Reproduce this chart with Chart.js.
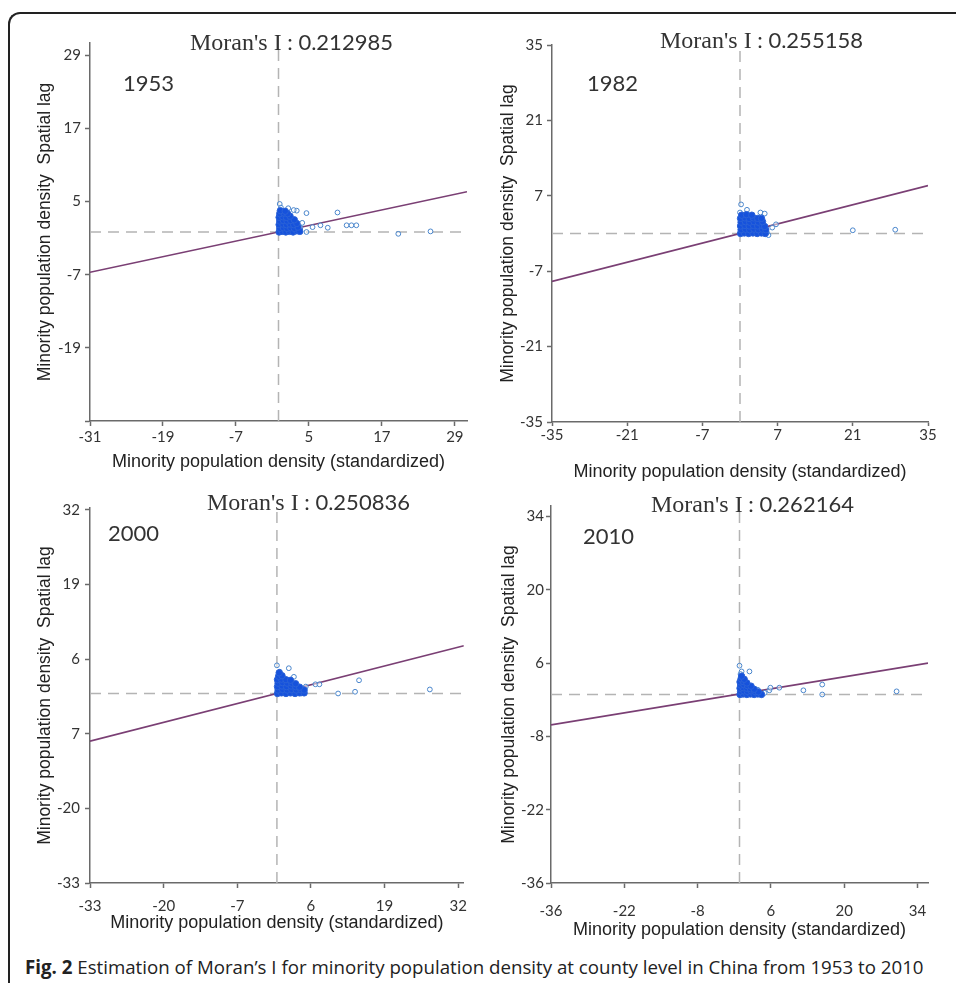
<!DOCTYPE html>
<html>
<head>
<meta charset="utf-8">
<script src="https://cdn.jsdelivr.net/npm/chart.js@4/dist/chart.umd.min.js"></script>
<style>
  html, body { margin:0; padding:0; background:#fff; width:956px; height:983px; overflow:hidden; }
  #frame { position:absolute; left:8px; top:12px; width:1000px; height:1000px;
           border-left:2px solid #222; border-top:2px solid #222; border-top-left-radius:12px; }
  canvas { position:absolute; }
  #caption { position:absolute; left:25px; top:955px; font-family:"Open Sans", sans-serif; font-size:18.7px;
             line-height:24px; color:#222; white-space:nowrap; }
</style>
</head>
<body>
<div id="frame"></div>
<canvas id="c1953" width="466" height="460" style="left:10px;top:14px"></canvas>
<canvas id="c1982" width="470" height="470" style="left:480px;top:14px"></canvas>
<canvas id="c2000" width="466" height="470" style="left:10px;top:478px"></canvas>
<canvas id="c2010" width="470" height="470" style="left:480px;top:478px"></canvas>
<div id="caption"><b>Fig. 2</b> Estimation of Moran’s I for minority population density at county level in China from 1953 to 2010</div>
<script>
// values
const years = ["1953", "1982", "2000", "2010"];
const moranI = ["0.212985", "0.255158", "0.250836", "0.262164"];

const ticks1953 = [-31, -19, -7, 5, 17, 29];
const yLabels1953 = ["", "-19", "-7", "5", "17", "29"];
const ticks1982 = [-35, -21, -7, 7, 21, 35];
const ticks2000 = [-33, -20, -7, 6, 19, 32];
const yLabels2000 = ["-33", "-20", "7", "6", "19", "32"];
const ticks2010 = [-36, -22, -8, 6, 20, 34];

// regression line ends (x, y)
const fitX1953 = [-31, 31], fitY1953 = [-6.6, 6.6];
const fitX1982 = [-35, 35], fitY1982 = [-8.9, 8.9];
const fitX2000 = [-33, 33], fitY2000 = [-8.3, 8.3];
const fitX2010 = [-36, 36], fitY2010 = [-5.8, 6.0];

// dense cloud near the origin
const clusX1953 = [0.1,0.6,1.2,1.8,2.4,3.0,3.5, 0.2,0.8,1.4,2.0,2.6,3.2, 0.1,0.7,1.3,1.9,2.5,3.0, 0.2,0.8,1.4,2.0,2.6, 0.1,0.7,1.3,1.9, 0.2,0.9,1.5, 0.3,1.1];
const clusY1953 = [0.0,0.1,0.0,0.1,0.0,0.2,0.1, 0.6,0.7,0.6,0.7,0.6,0.8, 1.2,1.3,1.2,1.3,1.2,1.4, 1.8,1.9,1.8,1.9,2.0, 2.4,2.5,2.4,2.6, 3.0,3.1,3.0, 3.5,3.4];
const outX1953 = [0.2,0.4,1.6,3.0,3.6,4.6,4.6,5.6,6.9,8.1,9.7,11.2,12.0,12.8,19.7,25.0,2.5,3.9];
const outY1953 = [4.6,4.0,3.9,3.5,0.7,3.1,0.0,0.8,1.1,0.7,3.2,1.1,1.1,1.1,-0.3,0.1,3.6,1.5];

const clusX1982 = [0.1,0.8,1.6,2.4,3.2,4.0,4.7, 0.2,1.0,1.8,2.6,3.4,4.2,4.8, 0.1,0.9,1.7,2.5,3.3,4.1,4.6, 0.2,1.0,1.8,2.6,3.4,4.2, 0.1,0.9,1.7,2.5,3.3,4.0, 0.3,1.2,2.2];
const clusY1982 = [0.0,0.1,0.0,0.1,0.0,0.1,0.0, 0.7,0.8,0.7,0.8,0.7,0.8,0.7, 1.4,1.5,1.4,1.5,1.4,1.5,1.3, 2.1,2.2,2.1,2.2,2.1,2.2, 2.8,2.9,2.8,2.9,2.8,2.8, 3.4,3.5,3.4];
const outX1982 = [0.2,1.3,0.0,3.8,4.6,5.3,6.0,6.7,21.0,28.9,5.0];
const outY1982 = [5.4,4.4,3.9,3.9,3.7,-0.3,1.1,1.7,0.6,0.7,0.2];

const clusX2000 = [0.1,0.8,1.6,2.4,3.2,4.0,4.8, 0.2,1.0,1.8,2.6,3.4,4.2,4.8, 0.1,0.9,1.7,2.5,3.3,4.0, 0.2,1.0,1.8,2.6,3.3, 0.1,0.8,1.6,2.4, 0.3,0.9, 0.4];
const clusY2000 = [0.0,0.1,0.0,0.1,0.0,0.1,0.1, 0.6,0.7,0.6,0.7,0.6,0.7,0.6, 1.2,1.3,1.2,1.3,1.2,1.1, 1.8,1.9,1.8,1.8,1.7, 2.4,2.5,2.4,2.3, 3.0,3.1, 3.6];
const outX2000 = [0.0,2.1,0.5,5.1,6.8,7.5,10.8,13.8,14.5,27.0,4.3,3.0];
const outY2000 = [4.9,4.4,3.8,1.2,1.6,1.6,0.0,0.3,2.3,0.7,0.0,2.9];

const clusX2010 = [0.1,0.7,1.4,2.1,2.8,3.5,4.2, 0.2,0.8,1.5,2.2,2.9,3.6, 0.1,0.7,1.4,2.1,2.8, 0.2,0.8,1.5,2.2, 0.1,0.7,1.4, 0.3,0.9, 0.4];
const clusY2010 = [0.0,0.1,0.0,0.1,0.0,0.1,0.0, 0.6,0.7,0.6,0.7,0.6,0.5, 1.2,1.3,1.2,1.1,1.0, 1.8,1.9,1.7,1.6, 2.4,2.5,2.2, 3.0,2.9, 3.5];
const outX2010 = [0.0,0.4,1.9,0.2,4.2,5.7,5.9,7.6,12.2,15.8,15.8,30.0,3.5,4.8];
const outY2010 = [5.5,4.4,4.4,3.9,0.0,0.8,1.3,1.3,0.8,1.9,0.0,0.6,0.9,0.3];

const xTitle = "Minority population density (standardized)";
const yTitle = "Minority population density  Spatial lag";

const pts = (xs, ys) => xs.map((x, i) => ({x: x, y: ys[i]}));

const panelText = {
  id: "panelText",
  afterDraw(chart, args, o) {
    const ctx = chart.ctx, a = chart.chartArea;
    ctx.save();
    ctx.fillStyle = "#333";
    ctx.textBaseline = "alphabetic";
    ctx.textAlign = "left";
    let x = a.left + o.tx;
    ctx.font = '24px "Liberation Serif"';
    ctx.fillText("Moran's I", x, a.top + o.ty);
    x += ctx.measureText("Moran's I").width;
    ctx.font = "22px Lato";
    ctx.fillText(" : " + o.moran, x, a.top + o.ty);
    ctx.fillText(o.year, a.left + o.yx, a.top + o.yy);
    ctx.restore();
  }
};

function makePanel(id, p) {
  const axisCol = "#6a6a6a";
  const tickFont = {family: "Lato", size: 15};
  new Chart(document.getElementById(id), {
    type: "scatter",
    data: {
      datasets: [
        {data: pts(p.clusX, p.clusY), pointRadius: 3.2, backgroundColor: "#1652dc", borderColor: "#2a62d8", borderWidth: 1},
        {data: pts(p.outX, p.outY), pointRadius: 2.4, backgroundColor: "rgba(255,255,255,0.5)", borderColor: "#4a86cc", borderWidth: 1},
        {data: pts(p.fitX, p.fitY), showLine: true, pointRadius: 0, borderColor: "#7a3f74", borderWidth: 1.6},
        {data: [{x: p.xMin, y: 0}, {x: p.xMax, y: 0}], showLine: true, pointRadius: 0, borderColor: "#b4b4b4", borderWidth: 1.5, borderDash: [11, 7]},
        {data: [{x: 0, y: p.yMin}, {x: 0, y: p.yMax}], showLine: true, pointRadius: 0, borderColor: "#b4b4b4", borderWidth: 1.5, borderDash: [11, 7]}
      ]
    },
    options: {
      responsive: false,
      animation: false,
      events: [],
      layout: {padding: {left: 0, top: p.padTop, right: p.padRight, bottom: 0}},
      plugins: {
        legend: {display: false},
        tooltip: {enabled: false},
        panelText: {moran: p.moran, year: p.year, tx: p.tx, ty: p.ty, yx: p.yx, yy: p.yy}
      },
      scales: {
        x: {
          type: "linear", min: p.xMin, max: p.xMax,
          afterBuildTicks: s => { s.ticks = p.xTicks.map(v => ({value: v})); },
          afterFit: s => { s.height = p.xh; },
          grid: {drawOnChartArea: false, drawTicks: true, tickLength: p.xTickLen, color: axisCol, tickWidth: 1.5},
          border: {display: true, color: axisCol, width: 1.5},
          ticks: {autoSkip: false, maxRotation: 0, padding: p.xPad, color: "#333", font: tickFont,
                  callback: (v, i) => p.xLabels[i]},
          title: {display: true, text: xTitle, color: "#222", font: {family: "Liberation Sans", size: 18},
                  padding: {top: 0, bottom: p.xTitlePad}}
        },
        y: {
          type: "linear", min: p.yMin, max: p.yMax,
          afterBuildTicks: s => { s.ticks = p.yTicks.map(v => ({value: v})); },
          afterFit: s => { s.width = p.yw; },
          grid: {drawOnChartArea: false, drawTicks: true, tickLength: 5, color: axisCol, tickWidth: 1.5},
          border: {display: true, color: axisCol, width: 1.5},
          ticks: {autoSkip: false, padding: p.yPad, color: "#333", font: tickFont,
                  callback: (v, i) => p.yLabels[i]},
          title: {display: true, text: yTitle, color: "#222", font: {family: "Liberation Sans", size: 17.5},
                  padding: {top: p.yTitlePad, bottom: 0}}
        }
      }
    },
    plugins: [panelText]
  });
}

makePanel("c1953", {
  year: years[0], moran: moranI[0],
  xMin: -31, xMax: 31, yMin: -31, yMax: 31,
  xTicks: ticks1953, yTicks: ticks1953, xLabels: ticks1953.map(String), yLabels: yLabels1953,
  fitX: fitX1953, fitY: fitY1953, clusX: clusX1953, clusY: clusY1953, outX: outX1953, outY: outY1953,
  padTop: 29, padRight: 9, yw: 80, xh: 53, xTickLen: 5, xPad: 2, yPad: 4, xTitlePad: 1, yTitlePad: 24.5,
  tx: 100, ty: 7, yx: 33, yy: 48
});
makePanel("c1982", {
  year: years[1], moran: moranI[1],
  xMin: -35, xMax: 35, yMin: -35, yMax: 35,
  xTicks: ticks1982, yTicks: ticks1982, xLabels: ticks1982.map(String), yLabels: ticks1982.map(String),
  fitX: fitX1982, fitY: fitY1982, clusX: clusX1982, clusY: clusY1982, outX: outX1982, outY: outY1982,
  padTop: 31, padRight: 22, yw: 72, xh: 62, xTickLen: 4, xPad: 0, yPad: 4, xTitlePad: 1, yTitlePad: 17.5,
  tx: 108, ty: 3, yx: 35, yy: 46
});
makePanel("c2000", {
  year: years[2], moran: moranI[2],
  xMin: -33, xMax: 33, yMin: -33, yMax: 32.3,
  xTicks: ticks2000, yTicks: ticks2000, xLabels: ticks2000.map(String), yLabels: yLabels2000,
  fitX: fitX2000, fitY: fitY2000, clusX: clusX2000, clusY: clusY2000, outX: outX2000, outY: outY2000,
  padTop: 30, padRight: 9, yw: 80, xh: 65, xTickLen: 5, xPad: 9, yPad: 5, xTitlePad: 14, yTitlePad: 24.5,
  tx: 117, ty: 2, yx: 18, yy: 33
});
makePanel("c2010", {
  year: years[3], moran: moranI[3],
  xMin: -36, xMax: 36, yMin: -36, yMax: 36,
  xTicks: ticks2010, yTicks: ticks2010, xLabels: ticks2010.map(String), yLabels: ticks2010.map(String),
  fitX: fitX2010, fitY: fitY2010, clusX: clusX2010, clusY: clusY2010, outX: outX2010, outY: outY2010,
  padTop: 28, padRight: 22, yw: 71, xh: 65, xTickLen: 5, xPad: 14, yPad: 2, xTitlePad: 7, yTitlePad: 18.5,
  tx: 100, ty: 6, yx: 32, yy: 38
});
</script>
</body>
</html>
